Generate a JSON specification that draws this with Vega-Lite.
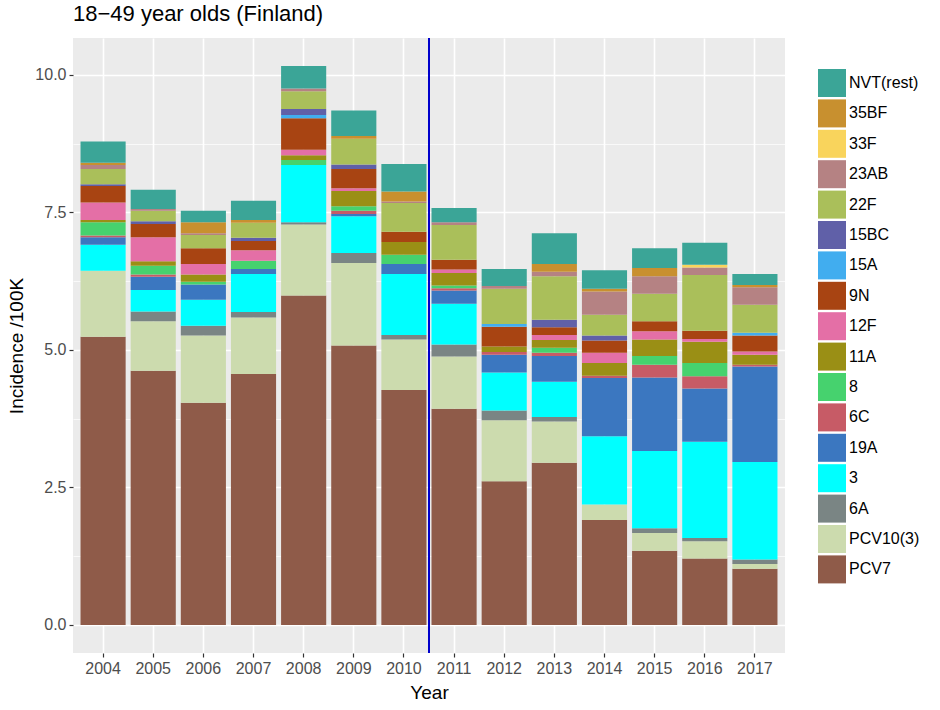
{
  "$schema": "https://vega.github.io/schema/vega-lite/v6.json",
  "autosize": {"type": "none"},
  "width": 712,
  "height": 615,
  "padding": {"left": 73, "top": 38, "right": 155, "bottom": 57},
  "background": "white",
  "title": {"text": "18−49 year olds (Finland)", "anchor": "start", "frame": "group", "font": "Liberation Sans", "fontSize": 22, "fontWeight": "normal", "color": "#000000", "offset": 11},
  "config": {
    "view": {"fill": "#EBEBEB", "stroke": null},
    "font": "Liberation Sans"
  },
  "layer": [
    {
      "data": {"values": [
        {"year":"2004","sero":"PCV7","v":5.24},{"year":"2004","sero":"PCV10(3)","v":1.20},{"year":"2004","sero":"3","v":0.47},{"year":"2004","sero":"19A","v":0.14},{"year":"2004","sero":"6C","v":0.03},{"year":"2004","sero":"8","v":0.24},{"year":"2004","sero":"11A","v":0.04},{"year":"2004","sero":"12F","v":0.32},{"year":"2004","sero":"9N","v":0.30},{"year":"2004","sero":"15BC","v":0.03},{"year":"2004","sero":"22F","v":0.28},{"year":"2004","sero":"23AB","v":0.07},{"year":"2004","sero":"35BF","v":0.04},{"year":"2004","sero":"NVT(rest)","v":0.39},
        {"year":"2005","sero":"PCV7","v":4.62},{"year":"2005","sero":"PCV10(3)","v":0.90},{"year":"2005","sero":"6A","v":0.18},{"year":"2005","sero":"3","v":0.39},{"year":"2005","sero":"19A","v":0.24},{"year":"2005","sero":"6C","v":0.04},{"year":"2005","sero":"8","v":0.16},{"year":"2005","sero":"11A","v":0.08},{"year":"2005","sero":"12F","v":0.44},{"year":"2005","sero":"9N","v":0.24},{"year":"2005","sero":"15BC","v":0.05},{"year":"2005","sero":"22F","v":0.19},{"year":"2005","sero":"23AB","v":0.03},{"year":"2005","sero":"NVT(rest)","v":0.35},
        {"year":"2006","sero":"PCV7","v":4.04},{"year":"2006","sero":"PCV10(3)","v":1.22},{"year":"2006","sero":"6A","v":0.18},{"year":"2006","sero":"3","v":0.47},{"year":"2006","sero":"19A","v":0.28},{"year":"2006","sero":"8","v":0.05},{"year":"2006","sero":"11A","v":0.13},{"year":"2006","sero":"12F","v":0.19},{"year":"2006","sero":"9N","v":0.29},{"year":"2006","sero":"22F","v":0.24},{"year":"2006","sero":"23AB","v":0.03},{"year":"2006","sero":"35BF","v":0.20},{"year":"2006","sero":"NVT(rest)","v":0.21},
        {"year":"2007","sero":"PCV7","v":4.56},{"year":"2007","sero":"PCV10(3)","v":1.03},{"year":"2007","sero":"6A","v":0.10},{"year":"2007","sero":"3","v":0.69},{"year":"2007","sero":"19A","v":0.09},{"year":"2007","sero":"8","v":0.15},{"year":"2007","sero":"12F","v":0.19},{"year":"2007","sero":"9N","v":0.17},{"year":"2007","sero":"15BC","v":0.06},{"year":"2007","sero":"22F","v":0.27},{"year":"2007","sero":"35BF","v":0.05},{"year":"2007","sero":"NVT(rest)","v":0.35},
        {"year":"2008","sero":"PCV7","v":5.99},{"year":"2008","sero":"PCV10(3)","v":1.29},{"year":"2008","sero":"6A","v":0.04},{"year":"2008","sero":"3","v":1.04},{"year":"2008","sero":"8","v":0.09},{"year":"2008","sero":"11A","v":0.09},{"year":"2008","sero":"12F","v":0.10},{"year":"2008","sero":"9N","v":0.57},{"year":"2008","sero":"15A","v":0.06},{"year":"2008","sero":"15BC","v":0.11},{"year":"2008","sero":"22F","v":0.32},{"year":"2008","sero":"23AB","v":0.05},{"year":"2008","sero":"NVT(rest)","v":0.41},
        {"year":"2009","sero":"PCV7","v":5.08},{"year":"2009","sero":"PCV10(3)","v":1.50},{"year":"2009","sero":"6A","v":0.18},{"year":"2009","sero":"3","v":0.67},{"year":"2009","sero":"19A","v":0.04},{"year":"2009","sero":"6C","v":0.06},{"year":"2009","sero":"8","v":0.08},{"year":"2009","sero":"11A","v":0.28},{"year":"2009","sero":"12F","v":0.05},{"year":"2009","sero":"9N","v":0.35},{"year":"2009","sero":"15BC","v":0.08},{"year":"2009","sero":"22F","v":0.47},{"year":"2009","sero":"35BF","v":0.05},{"year":"2009","sero":"NVT(rest)","v":0.46},
        {"year":"2010","sero":"PCV7","v":4.27},{"year":"2010","sero":"PCV10(3)","v":0.92},{"year":"2010","sero":"6A","v":0.08},{"year":"2010","sero":"3","v":1.11},{"year":"2010","sero":"19A","v":0.18},{"year":"2010","sero":"8","v":0.17},{"year":"2010","sero":"11A","v":0.23},{"year":"2010","sero":"9N","v":0.19},{"year":"2010","sero":"22F","v":0.52},{"year":"2010","sero":"23AB","v":0.03},{"year":"2010","sero":"35BF","v":0.18},{"year":"2010","sero":"NVT(rest)","v":0.50},
        {"year":"2011","sero":"PCV7","v":3.93},{"year":"2011","sero":"PCV10(3)","v":0.95},{"year":"2011","sero":"6A","v":0.22},{"year":"2011","sero":"3","v":0.74},{"year":"2011","sero":"19A","v":0.24},{"year":"2011","sero":"6C","v":0.04},{"year":"2011","sero":"8","v":0.05},{"year":"2011","sero":"11A","v":0.23},{"year":"2011","sero":"12F","v":0.06},{"year":"2011","sero":"9N","v":0.18},{"year":"2011","sero":"22F","v":0.63},{"year":"2011","sero":"23AB","v":0.05},{"year":"2011","sero":"NVT(rest)","v":0.26},
        {"year":"2012","sero":"PCV7","v":2.61},{"year":"2012","sero":"PCV10(3)","v":1.11},{"year":"2012","sero":"6A","v":0.18},{"year":"2012","sero":"3","v":0.69},{"year":"2012","sero":"19A","v":0.32},{"year":"2012","sero":"6C","v":0.05},{"year":"2012","sero":"11A","v":0.10},{"year":"2012","sero":"9N","v":0.36},{"year":"2012","sero":"15A","v":0.05},{"year":"2012","sero":"22F","v":0.64},{"year":"2012","sero":"23AB","v":0.05},{"year":"2012","sero":"NVT(rest)","v":0.31},
        {"year":"2013","sero":"PCV7","v":2.95},{"year":"2013","sero":"PCV10(3)","v":0.75},{"year":"2013","sero":"6A","v":0.08},{"year":"2013","sero":"3","v":0.64},{"year":"2013","sero":"19A","v":0.47},{"year":"2013","sero":"6C","v":0.06},{"year":"2013","sero":"8","v":0.09},{"year":"2013","sero":"11A","v":0.14},{"year":"2013","sero":"12F","v":0.09},{"year":"2013","sero":"9N","v":0.14},{"year":"2013","sero":"15BC","v":0.14},{"year":"2013","sero":"22F","v":0.79},{"year":"2013","sero":"23AB","v":0.08},{"year":"2013","sero":"35BF","v":0.14},{"year":"2013","sero":"NVT(rest)","v":0.56},
        {"year":"2014","sero":"PCV7","v":1.91},{"year":"2014","sero":"PCV10(3)","v":0.28},{"year":"2014","sero":"3","v":1.24},{"year":"2014","sero":"19A","v":1.06},{"year":"2014","sero":"6C","v":0.04},{"year":"2014","sero":"11A","v":0.23},{"year":"2014","sero":"12F","v":0.19},{"year":"2014","sero":"9N","v":0.22},{"year":"2014","sero":"15BC","v":0.09},{"year":"2014","sero":"22F","v":0.38},{"year":"2014","sero":"23AB","v":0.42},{"year":"2014","sero":"35BF","v":0.05},{"year":"2014","sero":"NVT(rest)","v":0.34},
        {"year":"2015","sero":"PCV7","v":1.35},{"year":"2015","sero":"PCV10(3)","v":0.32},{"year":"2015","sero":"6A","v":0.09},{"year":"2015","sero":"3","v":1.40},{"year":"2015","sero":"19A","v":1.34},{"year":"2015","sero":"6C","v":0.23},{"year":"2015","sero":"8","v":0.16},{"year":"2015","sero":"11A","v":0.30},{"year":"2015","sero":"12F","v":0.15},{"year":"2015","sero":"9N","v":0.18},{"year":"2015","sero":"22F","v":0.50},{"year":"2015","sero":"23AB","v":0.32},{"year":"2015","sero":"35BF","v":0.15},{"year":"2015","sero":"NVT(rest)","v":0.36},
        {"year":"2016","sero":"PCV7","v":1.21},{"year":"2016","sero":"PCV10(3)","v":0.31},{"year":"2016","sero":"6A","v":0.06},{"year":"2016","sero":"3","v":1.75},{"year":"2016","sero":"19A","v":0.97},{"year":"2016","sero":"6C","v":0.22},{"year":"2016","sero":"8","v":0.24},{"year":"2016","sero":"11A","v":0.39},{"year":"2016","sero":"12F","v":0.05},{"year":"2016","sero":"9N","v":0.15},{"year":"2016","sero":"22F","v":1.01},{"year":"2016","sero":"23AB","v":0.14},{"year":"2016","sero":"33F","v":0.05},{"year":"2016","sero":"NVT(rest)","v":0.40},
        {"year":"2017","sero":"PCV7","v":1.02},{"year":"2017","sero":"PCV10(3)","v":0.09},{"year":"2017","sero":"6A","v":0.08},{"year":"2017","sero":"3","v":1.77},{"year":"2017","sero":"19A","v":1.74},{"year":"2017","sero":"6C","v":0.03},{"year":"2017","sero":"11A","v":0.18},{"year":"2017","sero":"12F","v":0.06},{"year":"2017","sero":"9N","v":0.29},{"year":"2017","sero":"15A","v":0.05},{"year":"2017","sero":"22F","v":0.51},{"year":"2017","sero":"23AB","v":0.32},{"year":"2017","sero":"35BF","v":0.04},{"year":"2017","sero":"NVT(rest)","v":0.20}
      ]},
      "transform": [
        {"calculate": "indexof(['PCV7','PCV10(3)','6A','3','19A','6C','8','11A','12F','9N','15A','15BC','22F','23AB','33F','35BF','NVT(rest)'], datum.sero)", "as": "stackorder"}
      ],
      "mark": {"type": "bar"},
      "encoding": {
        "x": {
          "field": "year", "type": "ordinal",
          "scale": {"paddingInner": 0.1, "paddingOuter": 0.15},
          "axis": {
            "title": "Year", "titleFontSize": 19, "titleFontWeight": "normal", "titleColor": "#000000", "titlePadding": 7,
            "labelAngle": 0, "labelFontSize": 16, "labelColor": "#4D4D4D", "labelPadding": 3,
            "tickSize": 4, "tickColor": "#333333", "tickWidth": 1.2, "tickBand": "center", "bandPosition": 0.5,
            "domain": false, "grid": true, "gridColor": "#FFFFFF", "gridWidth": 1.6
          }
        },
        "y": {
          "field": "v", "type": "quantitative", "stack": "zero",
          "scale": {"domain": [-0.51, 10.67], "nice": false, "zero": false},
          "axis": {
            "title": "Incidence /100K", "titleFontSize": 19, "titleFontWeight": "normal", "titleColor": "#000000", "titleX": -47,
            "values": [0, 1.25, 2.5, 3.75, 5, 6.25, 7.5, 8.75, 10],
            "labelExpr": "datum.value % 2.5 !== 0 ? '' : format(datum.value, '.1f')",
            "labelFontSize": 16, "labelColor": "#4D4D4D", "labelPadding": 3,
            "tickSize": 4, "tickColor": "#333333", "tickWidth": 1.2,
            "tickOpacity": {"condition": {"test": "datum.value % 2.5 !== 0", "value": 0}, "value": 1},
            "domain": false, "grid": true, "gridColor": "#FFFFFF",
            "gridWidth": {"condition": {"test": "datum.value % 2.5 !== 0", "value": 0.7}, "value": 1.6}
          }
        },
        "color": {
          "field": "sero", "type": "nominal",
          "scale": {
            "domain": ["NVT(rest)","35BF","33F","23AB","22F","15BC","15A","9N","12F","11A","8","6C","19A","3","6A","PCV10(3)","PCV7"],
            "range": ["#3BA597","#C8902F","#F9D45C","#B58283","#AABF5A","#6060A8","#41ADEF","#A84412","#E46FA6","#9A8F15","#46D26E","#C75B66","#3B77C0","#00FFFF","#7A8584","#CCDBAE","#8F5B49"]
          },
          "legend": {
            "title": null, "orient": "none", "legendX": 745, "legendY": 31,
            "symbolType": "square", "symbolSize": 784, "symbolStrokeWidth": 0, "symbolOpacity": 1,
            "labelFontSize": 16, "labelColor": "#000000", "labelOffset": 3, "rowPadding": 2.4,
            "padding": 0
          }
        },
        "order": {"field": "stackorder", "type": "quantitative", "sort": "ascending"}
      }
    },
    {
      "data": {"values": [{"year": "2010"}]},
      "mark": {"type": "rule", "color": "#0000CC", "strokeWidth": 2},
      "encoding": {
        "x": {"field": "year", "type": "ordinal", "bandPosition": 1.0556}
      }
    }
  ]
}
